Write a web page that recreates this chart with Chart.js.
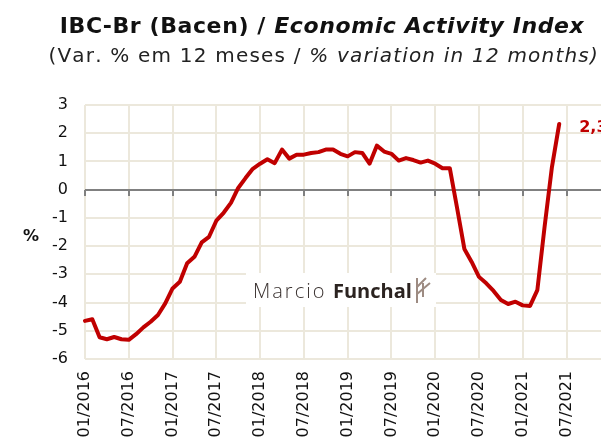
<!DOCTYPE html>
<html>
<head>
<meta charset="utf-8">
<script src="https://cdn.jsdelivr.net/npm/chart.js@4/dist/chart.umd.min.js"></script>
<style>
  html, body { margin: 0; padding: 0; background: #fff; }
  #wrap { width: 601px; height: 443px; overflow: hidden; }
  #chart { display: block; }
</style>
</head>
<body>
<div id="wrap"><canvas id="chart" width="644" height="443"></canvas></div>
<script>
// IBC-Br (Bacen) - variacao acumulada em 12 meses

const months = [
    '01/2016', '02/2016', '03/2016', '04/2016', '05/2016', '06/2016', '07/2016', '08/2016', '09/2016', '10/2016', '11/2016', '12/2016',
    '01/2017', '02/2017', '03/2017', '04/2017', '05/2017', '06/2017', '07/2017', '08/2017', '09/2017', '10/2017', '11/2017', '12/2017',
    '01/2018', '02/2018', '03/2018', '04/2018', '05/2018', '06/2018', '07/2018', '08/2018', '09/2018', '10/2018', '11/2018', '12/2018',
    '01/2019', '02/2019', '03/2019', '04/2019', '05/2019', '06/2019', '07/2019', '08/2019', '09/2019', '10/2019', '11/2019', '12/2019',
    '01/2020', '02/2020', '03/2020', '04/2020', '05/2020', '06/2020', '07/2020', '08/2020', '09/2020', '10/2020', '11/2020', '12/2020',
    '01/2021', '02/2021', '03/2021', '04/2021', '05/2021', '06/2021', '07/2021', '08/2021', '09/2021', '10/2021', '11/2021', '12/2021'
];

// % var. em 12 meses (01/2016 .. 06/2021)
const ibcValues = [
    -4.65, -4.59, -5.23, -5.30, -5.22, -5.30, -5.32, -5.12, -4.88, -4.68, -4.44, -4.03,
    -3.50, -3.26, -2.61, -2.38, -1.87, -1.67, -1.10, -0.82, -0.47, 0.06, 0.41, 0.74,
    0.92, 1.08, 0.94, 1.42, 1.10, 1.24, 1.24, 1.30, 1.33, 1.42, 1.42, 1.27,
    1.18, 1.33, 1.30, 0.92, 1.56, 1.35, 1.27, 1.03, 1.12, 1.05, 0.96, 1.03,
    0.92, 0.76, 0.76, -0.65, -2.10, -2.56, -3.09, -3.32, -3.59, -3.91, -4.05, -3.97,
    -4.10, -4.12, -3.56, -1.30, 0.80, 2.33
];

const yTicks = [3, 2, 1, 0, -1, -2, -3, -4, -5, -6];
const labelEvery = 6;

const RED = '#c00000';
const GRID = '#ece8dc';
const FONT = '"DejaVu Sans", sans-serif';
const MARK_FONT = '"Open Sans", sans-serif';

// Titles (mixed bold / italic parts)
const titlePlugin = {
    id: 'titles',
    afterDraw(chart) {
        const ctx = chart.ctx;
        const cx = 322;
        drawMixed(ctx, cx, 33, [
            { text: 'IBC-Br (Bacen) / ', font: 'bold 22px ' + FONT },
            { text: 'Economic Activity Index', font: 'italic bold 22px ' + FONT }
        ], '#111', 0.6);
        drawMixed(ctx, cx, 62, [
            { text: '(Var. % em 12 meses / ', font: '20px ' + FONT },
            { text: '% variation in 12 months)', font: 'italic 20px ' + FONT }
        ], '#222', 1.2);
    }
};

function drawMixed(ctx, cx, y, parts, color, spacing) {
    ctx.save();
    ctx.fillStyle = color;
    ctx.textBaseline = 'alphabetic';
    ctx.textAlign = 'left';
    let total = 0;
    parts.forEach(p => {
        ctx.font = p.font;
        p.w = ctx.measureText(p.text).width + spacing * p.text.length;
        total += p.w;
    });
    let x = cx - total / 2;
    parts.forEach(p => {
        ctx.font = p.font;
        for (const ch of p.text) {
            ctx.fillText(ch, x, y);
            x += ctx.measureText(ch).width + spacing;
        }
    });
    ctx.restore();
}

// Zero line with small tick marks, "%" label, watermark
const decorPlugin = {
    id: 'decor',
    beforeDatasetsDraw(chart) {
        const ctx = chart.ctx;
        const xs = chart.scales.x;
        const ys = chart.scales.y;
        const area = chart.chartArea;
        const y0 = Math.round(ys.getPixelForValue(0));

        ctx.save();
        ctx.strokeStyle = '#808080';
        ctx.lineWidth = 2;
        ctx.beginPath();
        ctx.moveTo(area.left, y0);
        ctx.lineTo(area.right, y0);
        for (let i = 0; i < months.length; i += labelEvery) {
            const x = Math.round(xs.getPixelForValue(i));
            ctx.moveTo(x, y0);
            ctx.lineTo(x, y0 + 6);
        }
        ctx.stroke();

        // watermark
        ctx.fillStyle = '#fff';
        ctx.fillRect(246, 273, 190, 34);
        ctx.textBaseline = 'alphabetic';
        ctx.fillStyle = '#3b3331';
        ctx.font = '300 20px ' + MARK_FONT;
        ctx.letterSpacing = '2px';
        ctx.fillText('Marcio', 253, 298);
        ctx.letterSpacing = '0px';
        ctx.fillStyle = '#2b2320';
        ctx.font = 'bold 20px ' + MARK_FONT;
        ctx.fillText('Funchal', 333, 298);
        ctx.strokeStyle = '#9d8b82';
        ctx.lineWidth = 2;
        ctx.beginPath();
        ctx.moveTo(417, 278); ctx.lineTo(417, 303);
        ctx.moveTo(417, 287); ctx.lineTo(426, 278);
        ctx.moveTo(417, 294); ctx.lineTo(430, 283);
        ctx.moveTo(423, 283); ctx.lineTo(423, 297);
        ctx.stroke();

        // y axis unit
        ctx.fillStyle = '#111';
        ctx.font = 'bold 16px ' + FONT;
        ctx.textAlign = 'center';
        ctx.textBaseline = 'middle';
        ctx.fillText('%', 31, 237);
        ctx.restore();
    },
    afterDatasetsDraw(chart) {
        // last value label
        const ctx = chart.ctx;
        const meta = chart.getDatasetMeta(0);
        const last = meta.data[meta.data.length - 1];
        const val = ibcValues[ibcValues.length - 1];
        ctx.save();
        ctx.fillStyle = RED;
        ctx.font = 'bold 16px ' + FONT;
        ctx.textAlign = 'left';
        ctx.textBaseline = 'middle';
        ctx.fillText(val.toFixed(1).replace('.', ','), last.x + 20, last.y + 4);
        ctx.restore();
    }
};

new Chart(document.getElementById('chart'), {
    type: 'line',
    data: {
        labels: months,
        datasets: [{
            data: ibcValues,
            borderColor: RED,
            borderWidth: 4,
            pointRadius: 0,
            tension: 0,
            fill: false,
            borderJoinStyle: 'round',
            borderCapStyle: 'round'
        }]
    },
    options: {
        responsive: false,
        animation: false,
        events: [],
        layout: { padding: { top: 105, left: 0, right: 41, bottom: 0 } },
        plugins: {
            legend: { display: false },
            tooltip: { enabled: false },
            title: { display: false }
        },
        scales: {
            x: {
                type: 'category',
                offset: false,
                afterFit: s => { s.height = 84; },
                border: { display: false },
                grid: {
                    drawTicks: false,
                    lineWidth: 2,
                    color: c => (c.index % labelEvery === 0 ? GRID : 'rgba(0,0,0,0)')
                },
                ticks: {
                    autoSkip: false,
                    maxRotation: 90,
                    minRotation: 90,
                    padding: 12,
                    color: '#111',
                    font: { family: FONT, size: 16 },
                    callback: function(v, i) {
                        return i % labelEvery === 0 ? months[i] : '';
                    }
                }
            },
            y: {
                min: yTicks[yTicks.length - 1],
                max: yTicks[0],
                afterFit: s => { s.width = 85; },
                border: { display: false },
                grid: { drawTicks: false, lineWidth: 2, color: GRID },
                ticks: {
                    stepSize: 1,
                    padding: 17,
                    color: '#111',
                    font: { family: FONT, size: 16 }
                }
            }
        }
    },
    plugins: [titlePlugin, decorPlugin]
});
</script>
</body>
</html>
